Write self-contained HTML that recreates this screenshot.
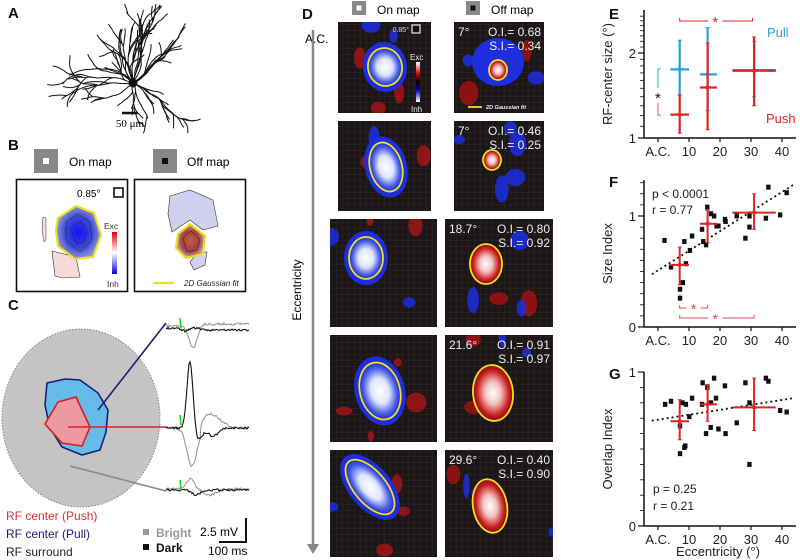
<!DOCTYPE html>
<html><head><meta charset="utf-8"><style>
body{margin:0;background:#fff}
svg{display:block;font-family:"Liberation Sans",Arial,sans-serif}
</style></head><body>
<svg id="fig" width="800" height="560" viewBox="0 0 800 560" xmlns="http://www.w3.org/2000/svg">
<defs>
<radialGradient id="gBlue" cx="50%" cy="50%" r="50%"><stop offset="0" stop-color="#fff"/><stop offset="0.45" stop-color="#dde4ff"/><stop offset="0.8" stop-color="#4a5ee8"/><stop offset="1" stop-color="#1a2ed0"/></radialGradient>
<radialGradient id="gRed" cx="50%" cy="50%" r="50%"><stop offset="0" stop-color="#fff"/><stop offset="0.4" stop-color="#f2c0c0"/><stop offset="0.8" stop-color="#c82020"/><stop offset="1" stop-color="#8a0c0c"/></radialGradient>
<radialGradient id="gBlueB" cx="50%" cy="50%" r="50%"><stop offset="0" stop-color="#1010ff"/><stop offset="0.6" stop-color="#3b48d8"/><stop offset="1" stop-color="#8f96d8"/></radialGradient>
<radialGradient id="gRedB" cx="50%" cy="50%" r="50%"><stop offset="0" stop-color="#c06040"/><stop offset="0.6" stop-color="#a04040"/><stop offset="1" stop-color="#d0a0a0"/></radialGradient>
<linearGradient id="cbar" x1="0" y1="0" x2="0" y2="1"><stop offset="0" stop-color="#e00000"/><stop offset="0.5" stop-color="#fff"/><stop offset="1" stop-color="#0000e0"/></linearGradient>
<linearGradient id="cbarD" x1="0" y1="0" x2="0" y2="1"><stop offset="0" stop-color="#fff"/><stop offset="0.3" stop-color="#c00"/><stop offset="0.5" stop-color="#000"/><stop offset="0.7" stop-color="#00c"/><stop offset="1" stop-color="#fff"/></linearGradient>
<pattern id="grid" width="6" height="6" patternUnits="userSpaceOnUse"><path d="M6 0H0V6" fill="none" stroke="#3a3434" stroke-width="0.6"/></pattern>
<clipPath id="neuronClip"><rect x="40" y="4" width="180" height="130"/></clipPath>
</defs>

<g font-weight="bold" font-size="15" fill="#111">
<text x="8" y="18">A</text>
<text x="8" y="150">B</text>
<text x="8" y="310">C</text>
<text x="302" y="19">D</text>
<text x="609" y="19">E</text>
<text x="609" y="187">F</text>
<text x="609" y="379">G</text>
</g>

<g id="neuron" clip-path="url(#neuronClip)" stroke="#111" fill="none" stroke-width="1"></g>
<line x1="122" y1="113" x2="138" y2="113" stroke="#111" stroke-width="2.5"/>
<text x="130" y="127" font-family="Liberation Serif,serif" font-size="11" text-anchor="middle">50 μm</text>

<g>
<rect x="34" y="149" width="24" height="24" fill="#888"/><rect x="43" y="158" width="6" height="6" fill="#fff"/>
<text x="69" y="166" font-size="12">On map</text>
<rect x="153" y="149" width="24" height="24" fill="#888"/><rect x="162" y="158" width="6" height="6" fill="#111"/>
<text x="187" y="166" font-size="12">Off map</text>
<rect x="16.5" y="179.5" width="111" height="112" fill="#fff" stroke="#111" stroke-width="1.6"/>
<text x="77" y="197" font-size="10">0.85°</text>
<rect x="114" y="188" width="9" height="9" fill="none" stroke="#111" stroke-width="1.6"/>
<path d="M43 217 L46 218 L46 240 L44 242 L42 230Z" fill="#f6dada" stroke="#333" stroke-width="0.5"/>
<path d="M52 251 L76 257 L80 277 L63 278 L55 276Z" fill="#f6dada" stroke="#333" stroke-width="0.6"/>
<path d="M58 218 L76 206 L94 213 L101 235 L93 257 L75 259 L58 246 L56 230Z" fill="url(#gBlueB)" stroke="#ece020" stroke-width="2.2"/>
<path d="M66 222 L78 214 L90 222 L92 240 L80 252 L66 240Z" fill="none" stroke="#222" stroke-width="0.5"/>
<path d="M71 228 L80 221 L87 230 L84 242 L76 244 Z" fill="none" stroke="#222" stroke-width="0.5"/>
<rect x="112" y="232" width="5" height="42" fill="url(#cbar)"/>
<text x="104" y="229" font-size="8.5" fill="#333">Exc</text><text x="107" y="287" font-size="8.5" fill="#333">Inh</text>
<rect x="134.5" y="179.5" width="111" height="112" fill="#fff" stroke="#111" stroke-width="1.6"/>
<path d="M170 196 L190 190 L213 200 L218 226 L203 230 L190 220 L172 232 L168 214Z" fill="#cfd0f0" stroke="#333" stroke-width="0.6"/>
<path d="M198 252 L207 252 L205 265 L194 270 L190 262Z" fill="#cfd0f0" stroke="#333" stroke-width="0.6"/>
<path d="M178 234 L190 224 L205 236 L203 254 L186 258 L176 248Z" fill="url(#gRedB)" stroke="#ece020" stroke-width="2.2"/>
<path d="M183 238 L191 231 L200 240 L197 250 L187 252Z" fill="none" stroke="#222" stroke-width="0.5"/>
<line x1="153" y1="283" x2="174" y2="283" stroke="#ece020" stroke-width="2.2"/>
<text x="184" y="286" font-size="8" font-style="italic" fill="#222">2D Gaussian fit</text>
</g>

<g>
<ellipse cx="81" cy="418" rx="79" ry="89" fill="#c4c4c4" stroke="#888" stroke-width="1" stroke-dasharray="1.5 1.5"/>
<path d="M47 383 L65 379 L80 380 L98 393 L108 410 L106 432 L100 450 L82 455 L62 447 L50 428 L45 405Z" fill="#66bbea" stroke="#1a2070" stroke-width="1.6"/>
<path d="M58 402 L76 397 L90 427 L82 446 L62 443 L45 424Z" fill="#ec9aa0" stroke="#d02020" stroke-width="1.6"/>
<line x1="98" y1="410" x2="166" y2="323" stroke="#1a2070" stroke-width="1.6"/>
<line x1="68" y1="427" x2="166" y2="427" stroke="#e02020" stroke-width="1.6"/>
<line x1="70" y1="466" x2="166" y2="491" stroke="#888" stroke-width="1.6"/>
<g id="traces" fill="none" stroke-width="1.1"></g>
<text x="6" y="520" font-size="12" fill="#d03030">RF center (Push)</text>
<text x="6" y="538" font-size="12" fill="#1a2070">RF center (Pull)</text>
<text x="6" y="556" font-size="12" fill="#222">RF surround</text>
<rect x="143" y="529" width="6" height="6" fill="#999"/><text x="156" y="537" font-size="12" font-weight="bold" fill="#999">Bright</text>
<rect x="143" y="544" width="6" height="6" fill="#111"/><text x="156" y="552" font-size="12" font-weight="bold" fill="#111">Dark</text>
<path d="M246 518 V542 H219" fill="none" stroke="#111" stroke-width="2"/>
<text x="200" y="536" font-size="12">2.5 mV</text>
<text x="208" y="555" font-size="12">100 ms</text>
</g>

<g>
<text x="305" y="43" font-size="12">A.C.</text>
<line x1="313" y1="30" x2="313" y2="546" stroke="#888" stroke-width="2.5"/>
<path d="M307 544 L319 544 L313 554Z" fill="#888"/>
<text transform="translate(301,290) rotate(-90)" font-size="12" text-anchor="middle">Eccentricity</text>
<rect x="352" y="1" width="14" height="14" fill="#888"/><rect x="356.5" y="5.5" width="5" height="5" fill="#fff"/>
<text x="377" y="14" font-size="12">On map</text>
<rect x="466" y="1" width="14" height="14" fill="#888"/><rect x="470.5" y="5.5" width="5" height="5" fill="#111"/>
<text x="491" y="14" font-size="12">Off map</text>
<g id="maps"></g>
</g>

<g id="charts"></g>
</svg>
<script>
// ---------- Panel E data ----------
const eDeg = [7, 16, 31];
const eXlo = [4, 13.5, 24];
const eXhi = [10, 19, 38];
const pullMean = [1.75, 1.68, 1.74];
const pullLo = [1.42, 1.25, 1.40];
const pullHi = [2.22, 2.46, 2.20];
const pushMean = [1.21, 1.51, 1.73];
const pushLo = [1.04, 1.07, 1.30];
const pushHi = [1.42, 2.17, 2.28];
const xTickVals = [0, 10, 20, 30, 40];
const xTickLabels = ["A.C.", "10", "20", "30", "40"];
// ---------- Panel F data ----------
const fDeg = [2.1,4.2,7.1,7.1,8,8.5,9,10.3,11,14.2,14.6,15.5,15.9,17.1,18.1,18.9,19.5,21.6,21.8,25.4,28.2,29.5,29.5,34.8,35.6,39.4,41.5];
const fSI = [0.78,0.54,0.34,0.26,0.40,0.77,0.57,0.69,0.82,0.88,0.77,0.74,1.08,1.02,1.00,0.91,0.91,0.97,0.95,1.00,0.80,0.90,1.00,0.98,1.26,1.01,1.21];
const fFit = [0.475, 1.28];
const fMean = [0.56, 0.93, 1.03];
const fYlo = [0.38, 0.76, 0.88];
const fYhi = [0.72, 1.05, 1.20];
// ---------- Panel G data ----------
const gDeg = [2.3,4.2,7.9,9,7.1,7.1,8.5,8.8,10.1,11,14.4,14.2,15.9,17.1,18.1,18.7,17,15.5,19.5,21.6,21.8,25.4,28.2,29.5,29.5,34.8,35.6,39.4,41.5];
const gOI = [0.79,0.81,0.80,0.79,0.65,0.47,0.51,0.52,0.71,0.83,0.93,0.79,0.90,0.80,0.96,0.83,0.64,0.60,0.63,0.91,0.60,0.67,0.93,0.80,0.40,0.96,0.94,0.75,0.74];
const gFit = [0.684, 0.83];
const gMean = [0.68, 0.79, 0.77];
const gYlo = [0.56, 0.68, 0.62];
const gYhi = [0.82, 0.92, 0.96];

const NS = "http://www.w3.org/2000/svg";
function mk(tag, attrs, parent){const e=document.createElementNS(NS,tag);for(const k in attrs)e.setAttribute(k,attrs[k]);parent.appendChild(e);return e;}
const charts = document.getElementById('charts');
const xS = d => 658 + d*3.1;
const yE = v => 138 - Math.log2(v)*85;
const yF = v => 327 - v*111;
const yG = v => 526 - v*154;
const RED="#e02424", BLUE="#2aa0d8";

function axes(y0, yTop, yTicks, yLabels, yFn, minor, title, name){
  const g = mk('g',{},charts);
  
  
  mk('line',{x1:644,y1:yTop,x2:644,y2:y0,stroke:'#111','stroke-width':1.5},g);
  mk('line',{x1:644,y1:y0,x2:796,y2:y0,stroke:'#111','stroke-width':1.5},g);
  xTickVals.forEach((v,i)=>{
    mk('line',{x1:xS(v),y1:y0,x2:xS(v),y2:y0+4,stroke:'#111','stroke-width':1.2},g);
    const t=mk('text',{x:xS(v),y:y0+18,'font-size':13,'text-anchor':'middle',fill:'#222'},g);
    t.textContent=xTickLabels[i];
    
    
  });
  minor.forEach(v=>mk('line',{x1:640,y1:yFn(v),x2:644,y2:yFn(v),stroke:'#111','stroke-width':0.8},g));
  yTicks.forEach((v,i)=>{
    mk('line',{x1:638,y1:yFn(v),x2:644,y2:yFn(v),stroke:'#111','stroke-width':1.2},g);
    const t=mk('text',{x:636,y:yFn(v)+5,'font-size':13,'text-anchor':'end',fill:'#222'},g);
    t.textContent=yLabels[i];
    
    
  });
  const tt=mk('text',{transform:`translate(612,${(y0+yTop)/2}) rotate(-90)`,'font-size':13,'text-anchor':'middle',fill:'#222'},g);
  tt.textContent=title;
  
  
}
function cross(x,y,xl,xh,yl,yh,col,w,name){
  const g=mk('g',{stroke:col,'stroke-width':w},charts);
  
  
  mk('line',{x1:xl,y1:y,x2:xh,y2:y},g);
  mk('line',{x1:x,y1:yl,x2:x,y2:yh},g);
  mk('circle',{cx:x,cy:y,r:2,fill:col,stroke:'none'},g);
  mk('line',{x1:x-2,y1:yl,x2:x+2,y2:yl,'stroke-width':1},g);
  mk('line',{x1:x-2,y1:yh,x2:x+2,y2:yh,'stroke-width':1},g);
}
function bracket(x1,x2,y,star,col){
  const g=mk('g',{stroke:col,'stroke-width':1,fill:'none'},charts);
  
  
  mk('path',{d:`M${x1} ${y-3}V${y}H${star-7} M${star+7} ${y}H${x2}V${y-3}`},g);
  const t=mk('text',{x:star,y:y+6,'font-size':15,fill:col,stroke:'none','text-anchor':'middle'},g);
  t.textContent='*';
}
const eMinor=[];for(let v=1.1;v<2.8;v+=0.1){eMinor.push(v);}
axes(138,10,[1,2],['1','2'],yE,eMinor,'RF-center size (°)','e');
eDeg.forEach((d,i)=>{
  cross(xS(d),yE(pullMean[i]),xS(eXlo[i]),xS(eXhi[i]),yE(pullHi[i]),yE(pullLo[i]),BLUE,2.2,'pull-mean-'+i);
});
eDeg.forEach((d,i)=>{
  cross(xS(d),yE(pushMean[i]),xS(eXlo[i]),xS(eXhi[i]),yE(pushHi[i]),yE(pushLo[i]),RED,2.2,'push-mean-'+i);
});
(function(){const g=mk('g',{stroke:'#888','stroke-width':1,fill:'none'},charts);

mk('path',{d:`M658 103V115H661`,stroke:'#e05050'},g);
mk('path',{d:`M661 69H658V88`,stroke:BLUE},g);
const t=mk('text',{x:655,y:103,'font-size':15,fill:'#111',stroke:'none'},g);t.textContent='*';})();
bracket(xS(7),xS(30.5),21,xS(18.5),RED);
(function(){let t=mk('text',{x:767,y:37,'font-size':13,fill:BLUE},charts);t.textContent='Pull';

t=mk('text',{x:766,y:123,'font-size':13,fill:RED},charts);t.textContent='Push';
})();
const fMinor=[];for(let v=0.1;v<1.35;v+=0.1){fMinor.push(v);}
axes(327,180,[0,1],['0','1'],yF,fMinor,'Size Index','f');
mk('line',{x1:xS(-2),y1:yF(fFit[0]),x2:xS(43.6),y2:yF(fFit[1]),stroke:'#111','stroke-width':1.8,'stroke-dasharray':'2 3'},charts);
fDeg.forEach((d,i)=>{
  const r=mk('rect',{x:xS(d)-2.2,y:yF(fSI[i])-2.5,width:4.4,height:5,fill:'#111'},charts);
  
  
});
eDeg.forEach((d,i)=>cross(xS(d),yF(fMean[i]),xS(eXlo[i]),xS(eXhi[i]),yF(fYhi[i]),yF(fYlo[i]),RED,2,'size-mean-'+i));
(function(){let t=mk('text',{x:652,y:198,'font-size':12,fill:'#222'},charts);t.textContent='p < 0.0001';

t=mk('text',{x:652,y:214,'font-size':12,fill:'#222'},charts);t.textContent='r = 0.77';
})();
bracket(xS(7),xS(16),308,xS(11.5),'#e05050');
bracket(xS(7),xS(31),318,xS(18.5),'#e05050');
const gMinor=[];for(let v=0.1;v<1;v+=0.1){gMinor.push(v);}
axes(526,372,[0,1],['0','1'],yG,gMinor,'Overlap Index','g');
mk('line',{x1:xS(-2),y1:yG(gFit[0]),x2:xS(43.6),y2:yG(gFit[1]),stroke:'#111','stroke-width':1.8,'stroke-dasharray':'2 3'},charts);
gDeg.forEach((d,i)=>{
  const r=mk('rect',{x:xS(d)-2.2,y:yG(gOI[i])-2.5,width:4.4,height:5,fill:'#111'},charts);
  
  
});
eDeg.forEach((d,i)=>cross(xS(d),yG(gMean[i]),xS(eXlo[i]),xS(eXhi[i]),yG(gYhi[i]),yG(gYlo[i]),RED,2,'overlap-mean-'+i));
(function(){let t=mk('text',{x:653,y:493,'font-size':12,fill:'#222'},charts);t.textContent='p = 0.25';

t=mk('text',{x:653,y:510,'font-size':12,fill:'#222'},charts);t.textContent='r = 0.21';

t=mk('text',{x:718,y:556,'font-size':13,fill:'#222','text-anchor':'middle'},charts);t.textContent='Eccentricity (°)';
})();

(function(){
  const g=document.getElementById('neuron');
  let s=7;const rnd=()=>{s=(s*16807)%2147483647;return s/2147483647;};
  function branch(x,y,ang,len,depth){
    let d=`M${x.toFixed(1)} ${y.toFixed(1)}`;
    const n=Math.round(len/3);
    for(let i=0;i<n;i++){ang+= (rnd()-0.5)*0.5;x+=Math.cos(ang)*3;y+=Math.sin(ang)*3;d+=`L${x.toFixed(1)} ${y.toFixed(1)}`;
      if(depth>0 && rnd()<0.1){branch(x,y,ang+(rnd()-0.5)*1.1,len*0.5,depth-1);} }
    mk('path',{d:d},g);
  }
  const angs=[-1.6,-1.3,-1.9,-1.1,-2.1,-0.7,-2.5,-0.35,-2.85,0.2,2.95,0.6,2.5,1.2,1.9,-1.5,-0.9,-2.3,-1.75,-1.45];
  const lens=[62,66,58,60,56,66,58,64,66,55,62,42,46,38,40,64,60,56,66,62];
  angs.forEach((a,i)=>branch(133,83,a,lens[i],2));
  mk('circle',{cx:133,cy:83,r:4,fill:'#111'},g);
})();

(function(){
  const g=document.getElementById('traces');
  let s=11;const rnd=()=>{s=(s*16807)%2147483647;return s/2147483647;};
  function trace(y0,shape,col){
    let d='';
    for(let x=166;x<=249;x+=1){const v=shape(x);const y=y0-v+(rnd()-0.5)*2.2;d+=(d?'L':'M')+x+' '+y.toFixed(1);}
    mk('path',{d:d,stroke:col},g);
  }
  const bump=(x,c,w,a)=>a*Math.exp(-((x-c)*(x-c))/(2*w*w));
  trace(326,x=>-bump(x,193,4,22)+(x>200?2:0),'#999');
  trace(328,x=>bump(x,185,3,-3)+(x>200?-2:0),'#111');
  trace(428,x=>-bump(x,192,5,38)+(x>200?bump(x,210,10,14):0),'#999');
  trace(428,x=>bump(x,190,3,68)-bump(x,198,4,12)-bump(x,213,5,8),'#111');
  trace(489,x=>bump(x,190,4,10)-bump(x,210,6,6),'#999');
  trace(490,x=>-bump(x,196,4,5),'#111');
  [326,423,488].forEach(y=>mk('line',{x1:180,y1:y-8,x2:181,y2:y+2,stroke:'#2c2','stroke-width':1.5},g));
})();

(function(){
  const root=document.getElementById('maps');
  const rows=[
    {on:[338,22,93,91],off:[454,22,90,91],ecc:'',oi:'0.68',si:'0.34',onE:[385,67,17,19,-10],offE:[498,70,9,10,0]},
    {on:[338,121,93,90],off:[454,121,90,90],ecc:'7°',oi:'0.46',si:'0.25',onE:[386,167,16,25,-15],offE:[492,160,9,10,0]},
    {on:[330,219,107,108],off:[445,219,108,108],ecc:'18.7°',oi:'0.80',si:'0.92',onE:[366,258,17,21,0],offE:[486,264,16,20,0]},
    {on:[330,335,107,107],off:[445,335,108,107],ecc:'21.6°',oi:'0.91',si:'0.97',onE:[380,391,20,29,-15],offE:[493,393,20,28,-5]},
    {on:[330,450,107,107],off:[445,450,108,107],ecc:'29.6°',oi:'0.40',si:'0.90',onE:[370,487,16,33,-40],offE:[490,506,17,27,-10]}
  ];
  let s=5;const rnd=()=>{s=(s*16807)%2147483647;return s/2147483647;};
  rows.forEach((r,i)=>{
    ['on','off'].forEach(kind=>{
      const [x,y,w,h]=r[kind];
      const g=mk('g',{},root);
      
      
      mk('rect',{x:x,y:y,width:w,height:h,fill:'#1c1616'},g);
      mk('rect',{x:x,y:y,width:w,height:h,fill:'url(#grid)'},g);
      const cp=mk('clipPath',{id:`cp${kind}${i}`},g);mk('rect',{x:x,y:y,width:w,height:h},cp);
      const gg=mk('g',{'clip-path':`url(#cp${kind}${i})`},g);
      for(let k=0;k<5;k++){
        const col=(rnd()<0.55)?(kind==='on'?'#a01515':'#1d2ee0'):(kind==='on'?'#1d2ee0':'#a01010');
        mk('ellipse',{cx:x+rnd()*w,cy:y+rnd()*h,rx:3+rnd()*7,ry:4+rnd()*10,fill:col,opacity:0.85},gg);
      }
      const e=r[kind==='on'?'onE':'offE'];
      if(kind==='on'){mk('ellipse',{cx:e[0],cy:e[1],rx:e[2]+5,ry:e[3]+6,fill:'#1d2ee0',transform:`rotate(${e[4]} ${e[0]} ${e[1]})`},gg);}
      else if(i===0){mk('ellipse',{cx:e[0],cy:e[1]-8,rx:26,ry:24,fill:'#1d2ee0'},gg);}
      mk('ellipse',{cx:e[0],cy:e[1],rx:e[2],ry:e[3],fill:kind==='on'?'url(#gBlue)':'url(#gRed)',transform:`rotate(${e[4]} ${e[0]} ${e[1]})`},gg);
      mk('ellipse',{cx:e[0],cy:e[1],rx:e[2],ry:e[3],fill:'none',stroke:'#f0e020','stroke-width':1.8,transform:`rotate(${e[4]} ${e[0]} ${e[1]})`},gg);
      if(kind==='off'){
        const ecc = i===0?'7°':r.ecc;
        let t=mk('text',{x:x+4,y:y+14,'font-size':12,fill:'#eee'},g);t.textContent=ecc;
        t=mk('text',{x:x+w-3,y:y+14,'font-size':12,fill:'#eee','text-anchor':'end'},g);t.textContent='O.I.= '+r.oi;
        t=mk('text',{x:x+w-3,y:y+28,'font-size':12,fill:'#eee','text-anchor':'end'},g);t.textContent='S.I.= '+r.si;
      }
    });
  });
  let t=mk('text',{x:409,y:32,'font-size':7,fill:'#ddd','text-anchor':'end'},root);t.textContent='0.85°';
  mk('rect',{x:412,y:25,width:8,height:8,fill:'#111',stroke:'#eee','stroke-width':1.2},root);
  mk('rect',{x:416,y:62,width:4,height:40,fill:'url(#cbarD)'},root);
  t=mk('text',{x:410,y:60,'font-size':8,fill:'#eee'},root);t.textContent='Exc';
  t=mk('text',{x:411,y:112,'font-size':8,fill:'#eee'},root);t.textContent='Inh';
  mk('line',{x1:468,y1:107,x2:482,y2:107,stroke:'#f0e020','stroke-width':1.8},root);
  t=mk('text',{x:486,y:109,'font-size':5.5,fill:'#eee','font-style':'italic','font-weight':'bold'},root);t.textContent='2D Gaussian fit';
})();
</script>
</body></html>
